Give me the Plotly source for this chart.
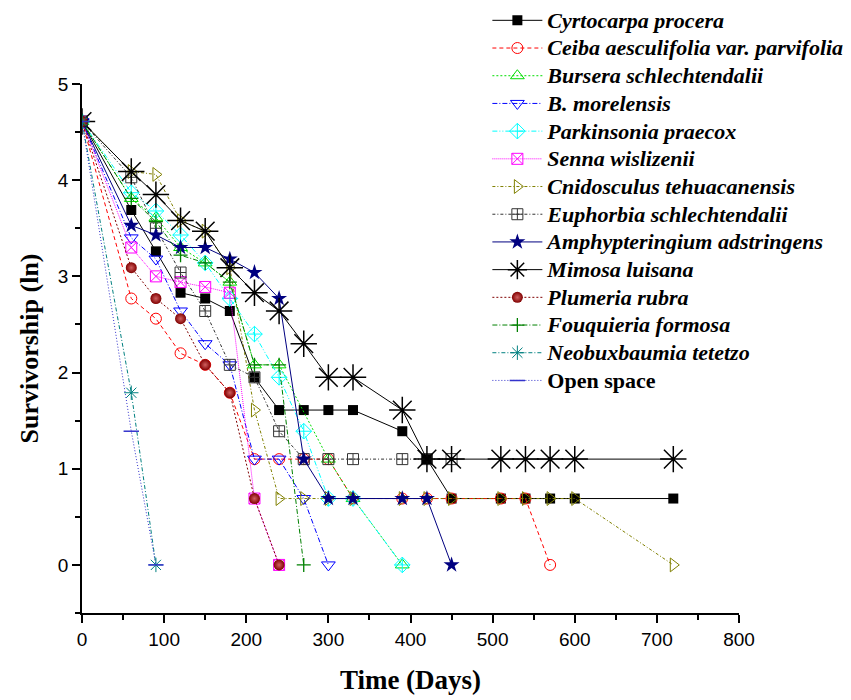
import plotly.graph_objects as go

# ---------------- data (ln of survivors) ----------------
cyrto_x = [0, 60, 90, 120, 150, 180, 210, 240, 270, 300, 330, 390, 420, 450, 510, 540, 570, 600, 720]
cyrto_y = [4.61, 3.69, 3.26, 2.83, 2.77, 2.64, 1.95, 1.61, 1.61, 1.61, 1.61, 1.39, 1.10, 0.69, 0.69, 0.69, 0.69, 0.69, 0.69]

ceiba_x = [0, 60, 90, 120, 150, 180, 210, 240, 270, 300, 330, 390, 420, 450, 510, 540, 570]
ceiba_y = [4.61, 2.77, 2.56, 2.20, 2.08, 1.79, 1.10, 1.10, 1.10, 1.10, 0.69, 0.69, 0.69, 0.69, 0.69, 0.69, 0.0]

burs_x = [0, 60, 90, 120, 150, 180, 210, 240, 300, 330, 390]
burs_y = [4.61, 3.81, 3.61, 3.30, 3.14, 2.94, 2.08, 2.08, 1.10, 0.69, 0.0]

bmor_x = [0, 60, 90, 120, 150, 180, 210, 240, 270, 300]
bmor_y = [4.61, 3.40, 3.18, 2.64, 2.30, 2.08, 1.10, 1.10, 0.69, 0.0]

park_x = [0, 60, 90, 120, 150, 180, 210, 240, 270, 300, 330, 390]
park_y = [4.61, 3.87, 3.68, 3.43, 3.14, 2.77, 2.40, 1.95, 1.39, 0.69, 0.69, 0.0]

senna_x = [0, 60, 90, 120, 150, 180, 210, 240]
senna_y = [4.61, 3.30, 3.00, 2.94, 2.89, 2.83, 0.69, 0.0]

cnid_x = [0, 60, 90, 120, 150, 180, 210, 240, 270, 300, 330, 390, 420, 450, 510, 540, 570, 600, 720]
cnid_y = [4.61, 4.09, 4.06, 3.58, 3.47, 3.09, 1.61, 0.69, 0.69, 0.69, 0.69, 0.69, 0.69, 0.69, 0.69, 0.69, 0.69, 0.69, 0.0]

euph_x = [0, 60, 90, 120, 150, 180, 210, 240, 270, 300, 330, 390, 420, 450]
euph_y = [4.61, 4.03, 3.50, 3.04, 2.64, 2.08, 1.95, 1.39, 1.10, 1.10, 1.10, 1.10, 1.10, 1.10]

amph_x = [0, 60, 90, 120, 150, 180, 210, 240, 270, 300, 330, 390, 420, 450]
amph_y = [4.61, 3.53, 3.43, 3.30, 3.30, 3.18, 3.04, 2.77, 1.10, 0.69, 0.69, 0.69, 0.69, 0.0]

mimo_x = [0, 60, 90, 120, 150, 180, 210, 240, 270, 300, 330, 390, 420, 450, 510, 540, 570, 600, 720]
mimo_y = [4.61, 4.09, 3.85, 3.58, 3.47, 3.09, 2.83, 2.64, 2.30, 1.95, 1.95, 1.61, 1.10, 1.10, 1.10, 1.10, 1.10, 1.10, 1.10]

plum_x = [0, 60, 90, 120, 150, 180, 210, 240]
plum_y = [4.61, 3.09, 2.77, 2.56, 2.08, 1.79, 0.69, 0.0]

fouq_x = [0, 60, 90, 120, 150, 180, 210, 240, 270]
fouq_y = [4.61, 3.81, 3.57, 3.22, 3.14, 2.94, 2.08, 2.08, 0.0]

neob_x = [0, 60, 90]
neob_y = [4.61, 1.79, 0.0]

open_x = [0, 60, 90]
open_y = [4.61, 1.39, 0.0]

names = [
    "Cyrtocarpa procera", "Ceiba aesculifolia var. parvifolia", "Bursera schlechtendalii",
    "B. morelensis", "Parkinsonia praecox", "Senna wislizenii", "Cnidosculus tehuacanensis",
    "Euphorbia schlechtendalii", "Amphypteringium adstringens", "Mimosa luisana",
    "Plumeria rubra", "Fouquieria formosa", "Neobuxbaumia tetetzo", "Open space",
]
italic = [True] * 13 + [False]

xs = [cyrto_x, ceiba_x, burs_x, bmor_x, park_x, senna_x, cnid_x, euph_x, amph_x, mimo_x,
      plum_x, fouq_x, neob_x, open_x]
ys = [cyrto_y, ceiba_y, burs_y, bmor_y, park_y, senna_y, cnid_y, euph_y, amph_y, mimo_y,
      plum_y, fouq_y, neob_y, open_y]

# ---------------- styles ----------------
styles = [
    dict(color="#000000", dash="solid", symbol="square", size=10, lw=0),
    dict(color="#FF0000", dash="4px,3px", symbol="circle-open", size=11, lw=1),
    dict(color="#00DD00", dash="2px,2px", symbol="triangle-up-open", size=12, lw=1),
    dict(color="#0000FF", dash="5px,2px,1px,2px", symbol="triangle-down-open", size=12, lw=1),
    dict(color="#00FFFF", dash="5px,2px,1px,2px,1px,2px", symbol="diamond-cross-open", size=12, lw=1),
    dict(color="#FF00FF", dash="1px,1px", symbol="square-x-open", size=11, lw=1),
    dict(color="#808000", dash="3px,2px,1px,2px", symbol="triangle-right-open", size=12, lw=1),
    dict(color="#333333", dash="3px,2px,1px,2px", symbol="square-cross-open", size=11, lw=1),
    dict(color="#000080", dash="solid", symbol="star", size=12, lw=0),
    dict(color="#000000", dash="solid", symbol="asterisk-open", size=22, lw=1.5),
    dict(color="#800000", dash="2px,2px", symbol="circle", size=11, lw=0),
    dict(color="#008000", dash="5px,2px,1px,2px", symbol="cross-thin-open", size=10, lw=1.3),
    dict(color="#008080", dash="4px,2px,1px,2px", symbol="asterisk-open", size=12, lw=1),
    dict(color="#3333CC", dash="1px,2px", symbol="line-ew-open", size=11, lw=1.5),
]

fig = go.Figure()
for name, it, x, y, s in zip(names, italic, xs, ys, styles):
    marker = dict(symbol=s["symbol"], size=s["size"], color=s["color"],
                  line=dict(width=s["lw"], color=s["color"]))
    if name == "Plumeria rubra":
        marker["gradient"] = dict(type="radial", color="#d06060")
    style = "font-size:22px;font-style:italic" if it else "font-size:22px;font-style:normal"
    fig.add_trace(go.Scatter(
        x=x, y=y, name=f"<span style='{style}'>{name}</span>", mode="lines+markers",
        line=dict(color=s["color"], width=1, dash=s["dash"]),
        marker=marker,
    ))

# the page body adds an 8px offset, compensated in the margins
fig.update_layout(
    width=851, height=700,
    paper_bgcolor="white", plot_bgcolor="white",
    margin=dict(l=74, r=120, t=76, b=95, autoexpand=False),
    font=dict(family="Liberation Sans", size=19, color="black"),
    legend=dict(
        x=0.617, xref="paper", xanchor="left",
        y=1.156, yref="paper", yanchor="top",
        font=dict(family="Liberation Serif", size=19, color="black", weight="bold"),
        bgcolor="rgba(255,255,255,0)", itemwidth=50, tracegroupgap=0,
    ),
    showlegend=True,
)
try:
    fig.update_layout(legend_maxheight=700)
except Exception:
    pass

fig.update_xaxes(
    range=[0, 800], dtick=100, tick0=0,
    showline=True, linecolor="black", linewidth=1.5, mirror=False,
    ticks="outside", ticklen=8, tickwidth=1.5, tickcolor="black",
    minor=dict(dtick=50, ticks="outside", ticklen=5, tickwidth=1.5, tickcolor="black"),
    showgrid=False, zeroline=False,
    tickfont=dict(family="Liberation Sans", size=19),
    title=dict(text="Time (Days)", font=dict(family="Liberation Serif", size=27, weight="bold"), standoff=22),
)
fig.update_yaxes(
    range=[-0.5, 5], dtick=1, tick0=0,
    showline=True, linecolor="black", linewidth=1.5, mirror=False,
    ticks="outside", ticklen=8, tickwidth=1.5, tickcolor="black",
    minor=dict(dtick=0.5, ticks="outside", ticklen=5, tickwidth=1.5, tickcolor="black"),
    showgrid=False, zeroline=False,
    tickfont=dict(family="Liberation Sans", size=19),
    title=dict(text="Survivorship (ln)", font=dict(family="Liberation Serif", size=26, weight="bold"), standoff=12),
)

fig.write_html("out.html")
